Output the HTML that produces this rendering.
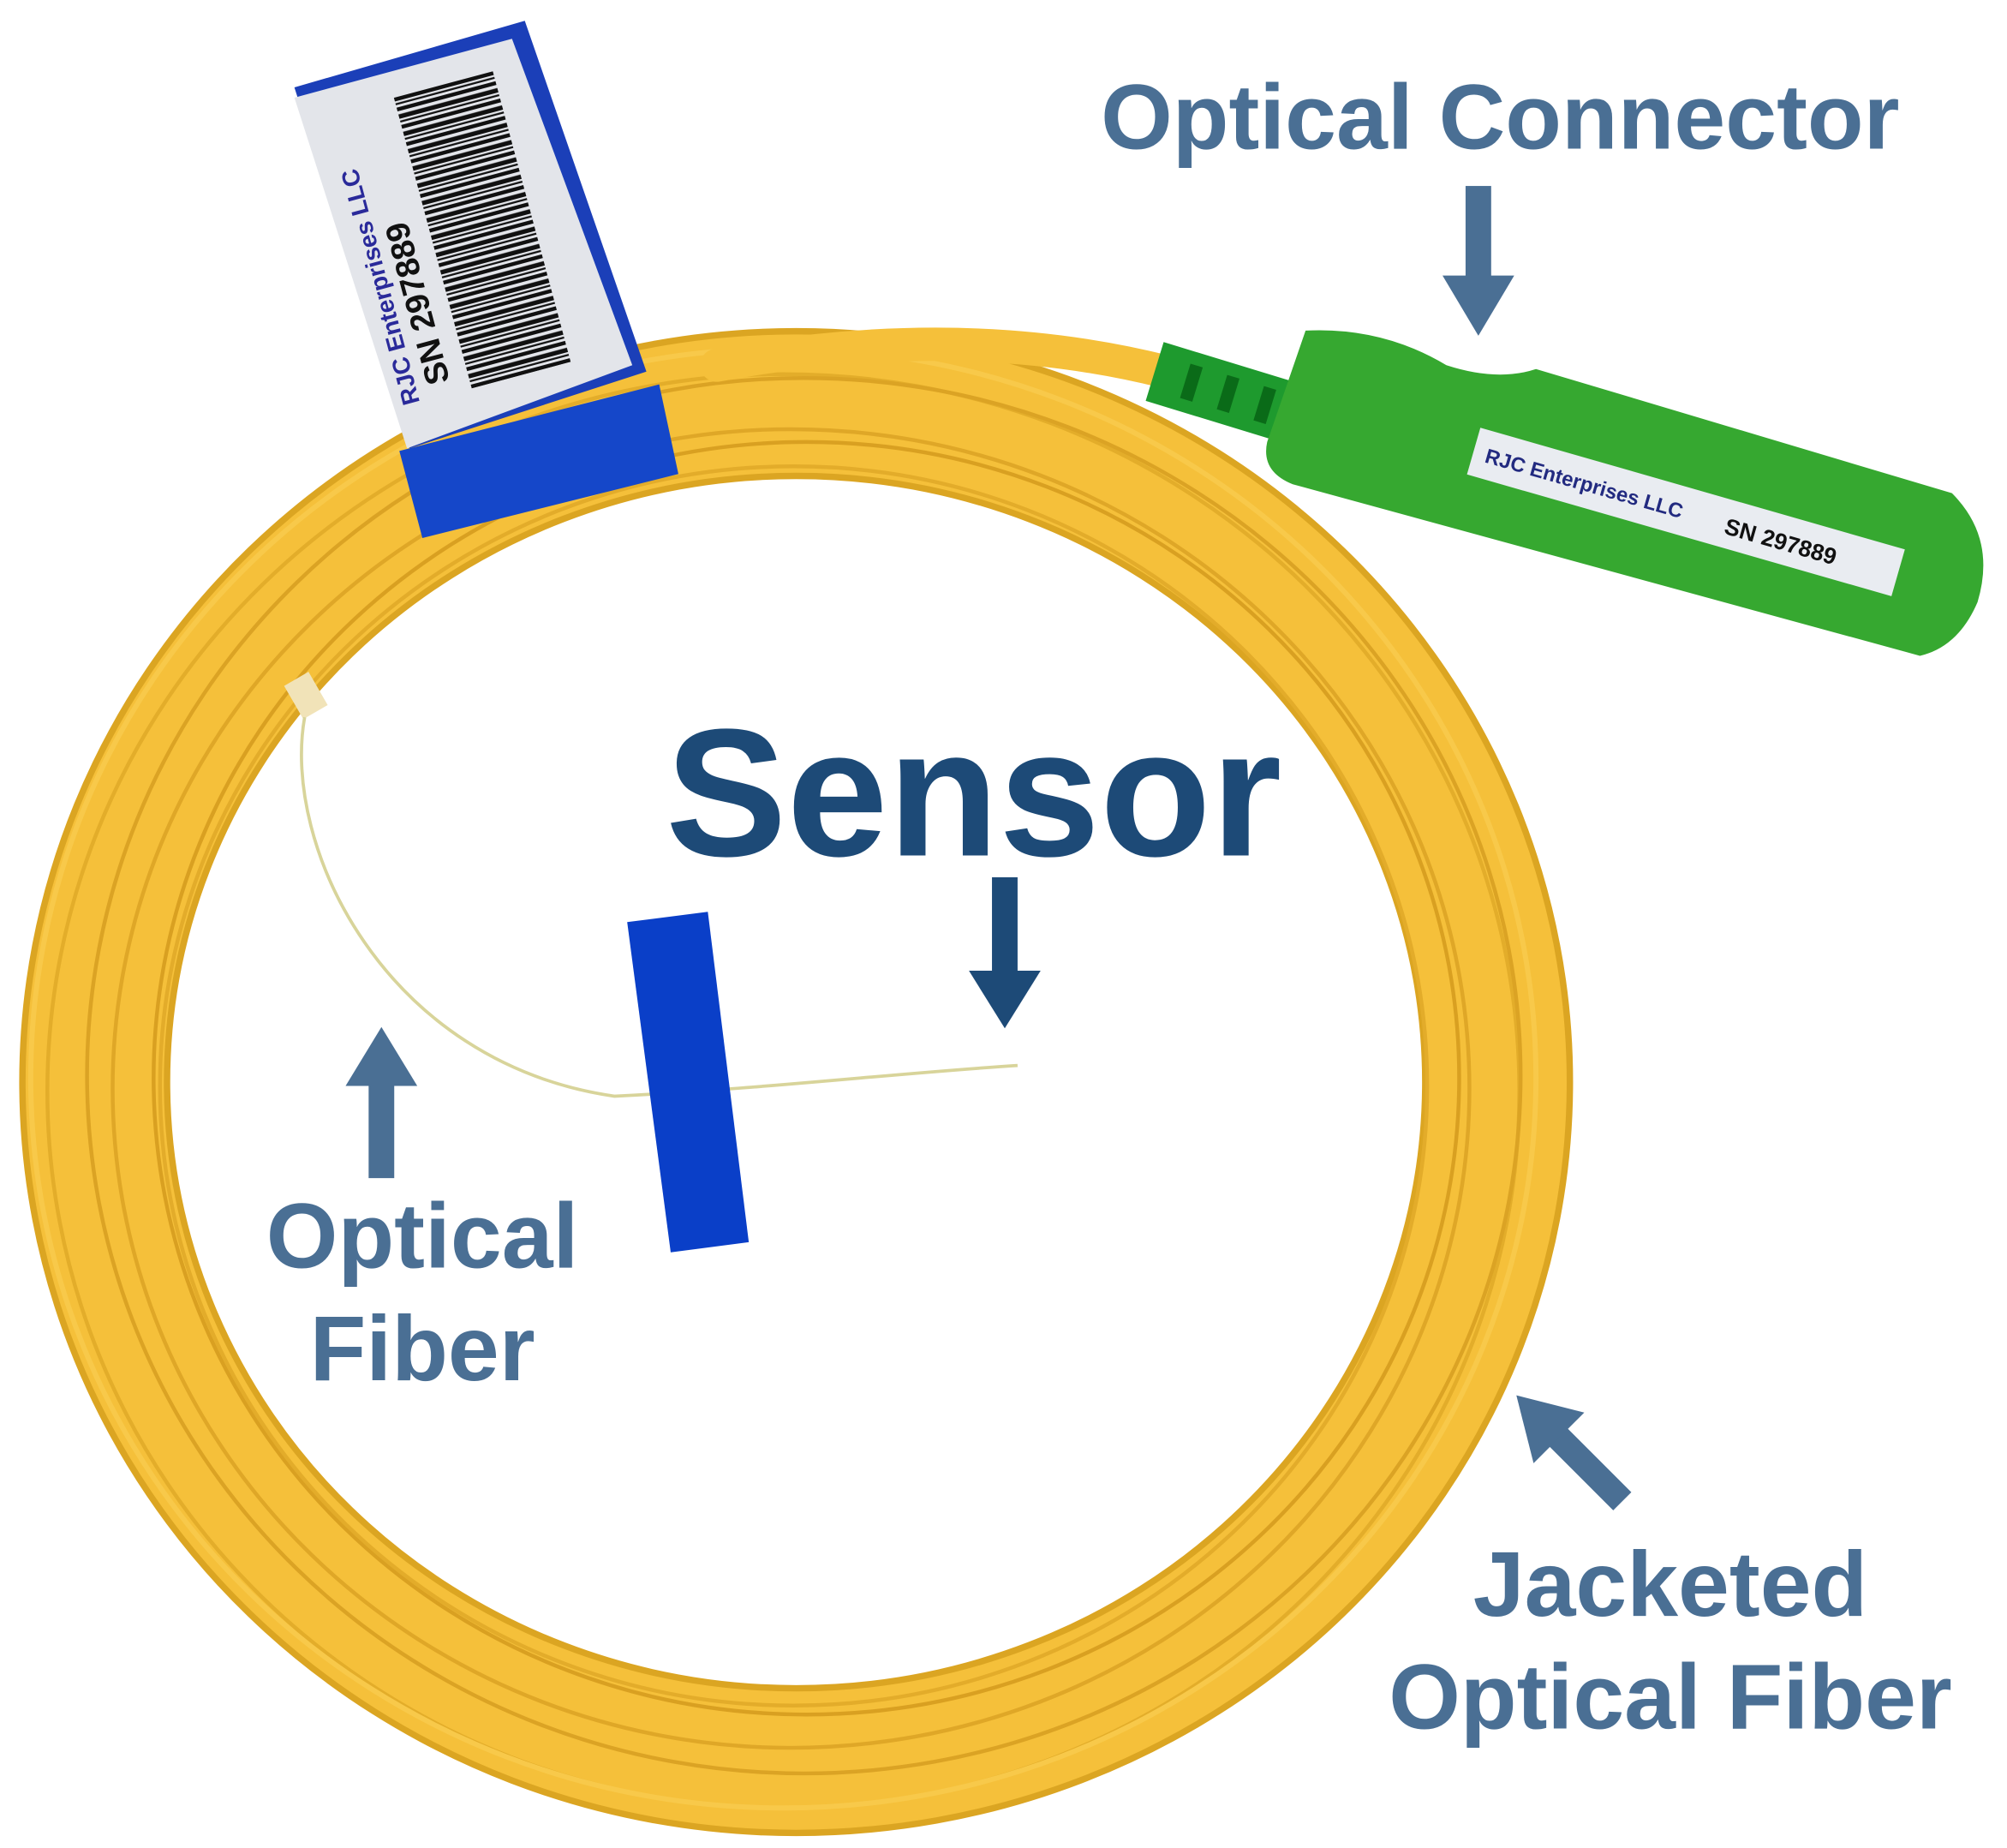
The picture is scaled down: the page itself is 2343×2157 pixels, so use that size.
<!DOCTYPE html>
<html><head><meta charset="utf-8"><style>
html,body{margin:0;padding:0;background:#fff;}
svg{display:block;}
text{font-family:"Liberation Sans",sans-serif;font-weight:bold;}
</style></head><body>
<svg width="2343" height="2157" viewBox="0 0 1568 1443" xmlns="http://www.w3.org/2000/svg">
<defs>
<pattern id="bc" width="14" height="300" patternUnits="userSpaceOnUse">
<rect width="3" height="300" fill="#111"/><rect x="5" width="1.5" height="300" fill="#111"/><rect x="8" width="3.5" height="300" fill="#111"/>
</pattern>
</defs>
<g fill="none" stroke-linecap="round">
<ellipse cx="622" cy="845" rx="548" ry="530" stroke="#dba522" stroke-width="118"/>
<ellipse cx="622" cy="845" rx="548" ry="530" stroke="#f5c03a" stroke-width="108"/>
<ellipse cx="612" cy="852" rx="575" ry="560" stroke="#e3ad2a" stroke-width="3"/>
<ellipse cx="628" cy="840" rx="560" ry="545" stroke="#dba324" stroke-width="3"/>
<ellipse cx="618" cy="850" rx="530" ry="515" stroke="#dfa727" stroke-width="3"/>
<ellipse cx="630" cy="842" rx="510" ry="497" stroke="#d9a021" stroke-width="3"/>
<ellipse cx="620" cy="848" rx="495" ry="484" stroke="#e3ac2a" stroke-width="3"/>
<ellipse cx="612" cy="842" rx="588" ry="570" stroke="#f8c94a" stroke-width="4"/>
<path d="M560 285 Q750 250 910 290" stroke="#f5c03a" stroke-width="26"/>
</g>
<rect x="228" y="528" width="22" height="30" fill="#f1e3b8" transform="rotate(-30 239 543)"/>
<path d="M238 560 C220 660 300 830 480 856 C600 850 700 838 795 832" fill="none" stroke="#d8d49a" stroke-width="2.5"/>
<polygon points="490,720 553,712 585,970 524,978" fill="#0a3fc8"/>
<!-- tag -->
<polygon points="230,68 410,16 505,290 320,350" fill="#1b3fb8"/>
<polygon points="230,76 400,30 494,285 318,350" fill="#e3e5ea"/>
<g transform="translate(328 314) rotate(-105)">
<text x="0" y="0" font-size="19" font-weight="normal" fill="#2a2a9a">RJC Enterprises LLC</text>
<text x="10" y="27" font-size="26" fill="#111">SN 297889</text>
<rect x="0" y="42" width="235" height="80" fill="url(#bc)"/>
</g>
<polygon points="312,352 515,300 530,370 330,420" fill="#1547c9"/>
<g transform="rotate(17 955 305)">
<rect x="900" y="282" width="110" height="48" fill="#1e9a2e"/>
<rect x="925" y="292" width="10" height="28" fill="#0a6b18"/>
<rect x="955" y="292" width="10" height="28" fill="#0a6b18"/>
<rect x="985" y="292" width="10" height="28" fill="#0a6b18"/>
</g>
<path d="M1020 258 Q1080 255 1130 285 Q1170 298 1200 288 L1525 385 Q1560 420 1545 470 Q1530 505 1500 512 L1010 378 Q985 368 990 345 Z" fill="#36a830"/>
<g transform="rotate(16 1160 340)">
<rect x="1155" y="335" width="345" height="38" fill="#e9ecf1"/>
<text x="1165" y="360" font-size="16" font-weight="normal" fill="#222a80">RJC Enterprises LLC</text>
<text x="1360" y="362" font-size="18" fill="#111">SN 297889</text>
</g>
<g fill="#4a6f94">
<text x="860" y="116" font-size="72">Optical Connector</text>
<text x="330" y="990" font-size="72" text-anchor="middle">Optical</text>
<text x="330" y="1078" font-size="72" text-anchor="middle">Fiber</text>
<text x="1305" y="1262" font-size="72" text-anchor="middle">Jacketed</text>
<text x="1305" y="1350" font-size="72" text-anchor="middle">Optical Fiber</text>
</g>
<text x="520" y="668" font-size="142" fill="#1d4a77">Sensor</text>
<g fill="#4a6f94">
<rect x="1145" y="145" width="20" height="80"/><polygon points="1127,215 1183,215 1155,262"/>
<rect x="288" y="840" width="20" height="80"/><polygon points="270,848 326,848 298,802"/>
<g transform="rotate(-45 1225 1130)"><rect x="1215" y="1115" width="20" height="75"/><polygon points="1197,1120 1253,1120 1225,1073"/></g>
</g>
<g fill="#1d4a77"><rect x="775" y="685" width="20" height="80"/><polygon points="757,758 813,758 785,803"/></g>
</svg>
</body></html>
